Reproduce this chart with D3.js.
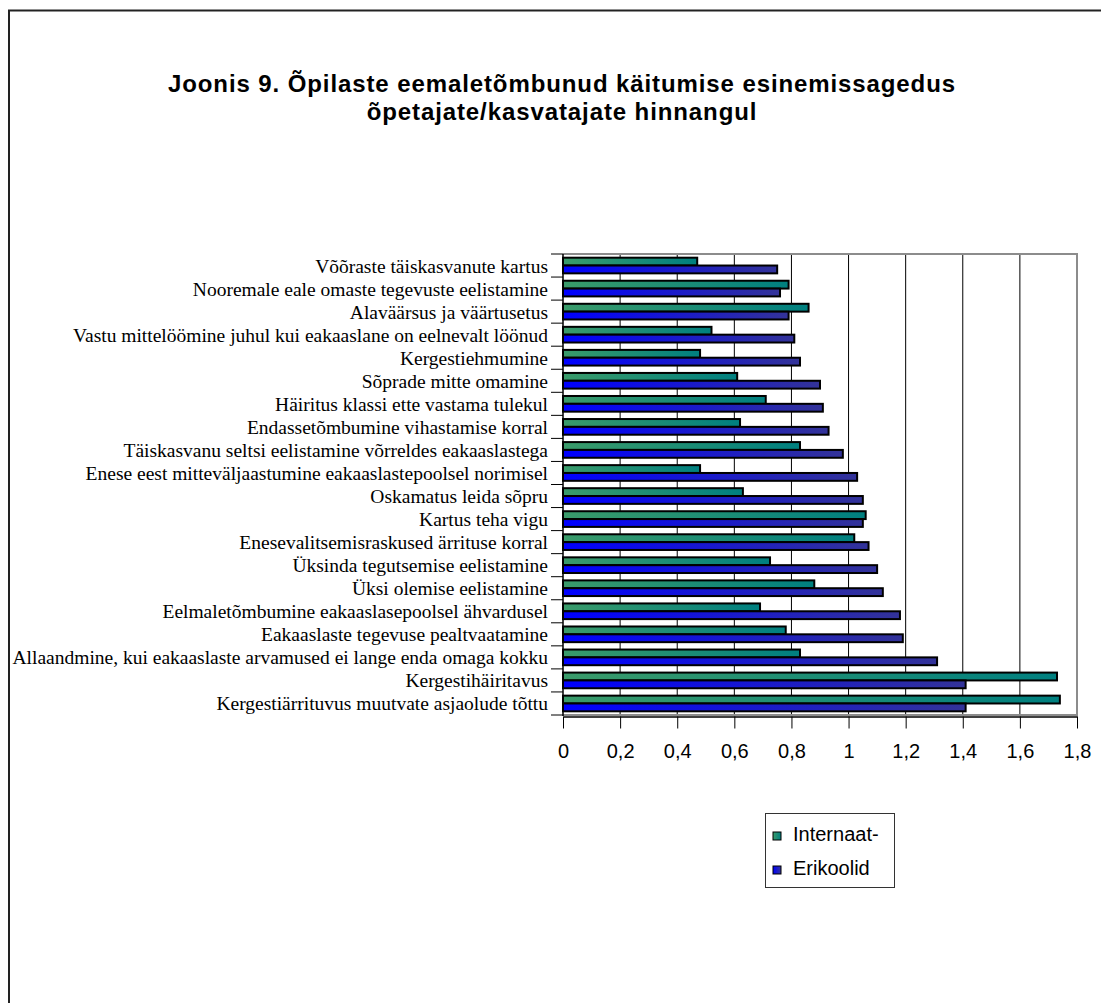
<!DOCTYPE html>
<html>
<head>
<meta charset="utf-8">
<script src="https://cdn.jsdelivr.net/npm/d3@7"></script>
<style>
  html, body { margin: 0; padding: 0; background: #fff; }
  svg { display: block; }
</style>
</head>
<body>
<svg id="chart" width="1101" height="1003"></svg>
<script>
const titleLines = [
  "Joonis 9. Õpilaste eemaletõmbunud käitumise esinemissagedus",
  "õpetajate/kasvatajate hinnangul"
];
const categories = [
  "Võõraste täiskasvanute kartus",
  "Nooremale eale omaste tegevuste eelistamine",
  "Alaväärsus ja väärtusetus",
  "Vastu mittelöömine juhul kui eakaaslane on eelnevalt löönud",
  "Kergestiehmumine",
  "Sõprade mitte omamine",
  "Häiritus klassi ette vastama tulekul",
  "Endassetõmbumine vihastamise korral",
  "Täiskasvanu seltsi eelistamine võrreldes eakaaslastega",
  "Enese eest mitteväljaastumine eakaaslastepoolsel norimisel",
  "Oskamatus leida sõpru",
  "Kartus teha vigu",
  "Enesevalitsemisraskused ärrituse korral",
  "Üksinda tegutsemise eelistamine",
  "Üksi olemise eelistamine",
  "Eelmaletõmbumine eakaaslasepoolsel ähvardusel",
  "Eakaaslaste tegevuse pealtvaatamine",
  "Allaandmine, kui eakaaslaste arvamused ei lange enda omaga kokku",
  "Kergestihäiritavus",
  "Kergestiärrituvus muutvate asjaolude tõttu"
];
const seriesNames = ["Internaat-", "Erikoolid"];
const internaat = [0.47, 0.79, 0.86, 0.52, 0.48, 0.61, 0.71, 0.62, 0.83, 0.48,
                   0.63, 1.06, 1.02, 0.725, 0.88, 0.69, 0.78, 0.83, 1.73, 1.74];
const erikoolid = [0.75, 0.76, 0.79, 0.81, 0.83, 0.90, 0.91, 0.93, 0.98, 1.03,
                   1.05, 1.05, 1.07, 1.10, 1.12, 1.18, 1.19, 1.31, 1.41, 1.41];
const xTickValues = [0, 0.2, 0.4, 0.6, 0.8, 1, 1.2, 1.4, 1.6, 1.8];
const xTickLabels = ["0", "0,2", "0,4", "0,6", "0,8", "1", "1,2", "1,4", "1,6", "1,8"];

const svg = d3.select("#chart");
const plot = { left: 563, right: 1077, top: 254, bottom: 715 };

// outer frame (only top/left visible in view)
svg.append("rect")
  .attr("x", 9).attr("y", 10.5).attr("width", 1300).attr("height", 1300)
  .attr("fill", "none").attr("stroke", "#222").attr("stroke-width", 2);

// gradients
const defs = svg.append("defs");
function grad(id, c0, c1) {
  const g = defs.append("linearGradient").attr("id", id)
    .attr("x1", "0%").attr("x2", "100%").attr("y1", "0%").attr("y2", "0%");
  g.append("stop").attr("offset", "0%").attr("stop-color", c0);
  g.append("stop").attr("offset", "100%").attr("stop-color", c1);
}
grad("gGreen", "#3a9b6a", "#008080");
grad("gBlue", "#0000ff", "#333399");
const fills = { "Internaat-": "url(#gGreen)", "Erikoolid": "url(#gBlue)" };

// title
svg.append("g").selectAll("text").data(titleLines).join("text")
  .attr("x", 562).attr("y", (d, i) => 92 + i * 28)
  .attr("text-anchor", "middle")
  .style("font-family", "'Liberation Sans', Arial, sans-serif")
  .style("font-weight", "bold").style("font-size", "24px")
  .style("letter-spacing", "0.9px")
  .text(d => d);

// scales
const x = d3.scaleLinear().domain([0, 1.8]).range([plot.left, plot.right]);
const y = d3.scaleBand().domain(categories).range([plot.top, plot.bottom])
  .paddingInner(0.32).paddingOuter(0.16);
const ys = d3.scaleBand().domain(seriesNames).range([0, y.bandwidth()]);

// gridlines
svg.append("g").selectAll("line").data(xTickValues.slice(1, -1)).join("line")
  .attr("x1", d => x(d)).attr("x2", d => x(d))
  .attr("y1", plot.top).attr("y2", plot.bottom)
  .attr("stroke", "#000").attr("stroke-width", 1);

// plot border (grey)
svg.append("path")
  .attr("d", `M${plot.left},${plot.top}H${plot.right}V${plot.bottom}H${plot.left}`)
  .attr("fill", "none").attr("stroke", "#8c8c8c").attr("stroke-width", 2);

// bars
const rows = categories.map((c, i) => ({ c, vals: [
  { s: "Internaat-", v: internaat[i] }, { s: "Erikoolid", v: erikoolid[i] }
]}));
const gRow = svg.append("g").selectAll("g").data(rows).join("g")
  .attr("transform", d => `translate(0,${y(d.c)})`);
gRow.selectAll("rect").data(d => d.vals).join("rect")
  .attr("x", x(0)).attr("y", d => ys(d.s))
  .attr("width", d => x(d.v) - x(0)).attr("height", ys.bandwidth())
  .attr("fill", d => fills[d.s])
  .attr("stroke", "#000").attr("stroke-width", 2);

// y axis: line + ticks at band boundaries, labels
const step = y.step();
const boundaries = d3.range(categories.length + 1).map(i => plot.top + i * step);
svg.append("g").selectAll("line").data(boundaries).join("line")
  .attr("x1", plot.left - 12).attr("x2", plot.left)
  .attr("y1", d => d).attr("y2", d => d)
  .attr("stroke", "#000").attr("stroke-width", 1);
svg.append("line").attr("x1", plot.left).attr("x2", plot.left)
  .attr("y1", plot.top).attr("y2", plot.bottom + 1)
  .attr("stroke", "#000").attr("stroke-width", 1.5);
svg.append("g").selectAll("text").data(categories).join("text")
  .attr("x", plot.left - 15)
  .attr("y", d => y(d) + y.bandwidth() / 2)
  .attr("dy", "0.36em")
  .attr("text-anchor", "end")
  .style("font-family", "'Liberation Serif', 'Times New Roman', serif")
  .style("font-size", "19.5px")
  .text(d => d);

// x axis
const xAxis = d3.axisBottom(x).tickValues(xTickValues)
  .tickFormat((d, i) => xTickLabels[i]).tickSize(12).tickPadding(15).tickSizeOuter(0);
const gx = svg.append("g").attr("transform", `translate(0,${plot.bottom + 1.5})`).call(xAxis);
gx.select(".domain").attr("stroke", "#000").attr("stroke-width", 1.5);
gx.selectAll(".tick line").attr("stroke", "#000");
gx.selectAll(".tick text")
  .style("font-family", "'Liberation Sans', Arial, sans-serif")
  .style("font-size", "20px").attr("fill", "#000");

// legend
const lg = svg.append("g");
lg.append("rect").attr("x", 765.5).attr("y", 813.5).attr("width", 129).attr("height", 74)
  .attr("fill", "#fff").attr("stroke", "#333").attr("stroke-width", 1);
const items = lg.selectAll("g").data(seriesNames).join("g")
  .attr("transform", (d, i) => `translate(773,${832 + i * 34})`);
items.append("rect").attr("width", 8).attr("height", 8)
  .attr("fill", d => fills[d]).attr("stroke", "#000").attr("stroke-width", 1);
items.append("text").attr("x", 20).attr("y", 9)
  .style("font-family", "'Liberation Sans', Arial, sans-serif")
  .style("font-size", "20px").text(d => d);
</script>
</body>
</html>
